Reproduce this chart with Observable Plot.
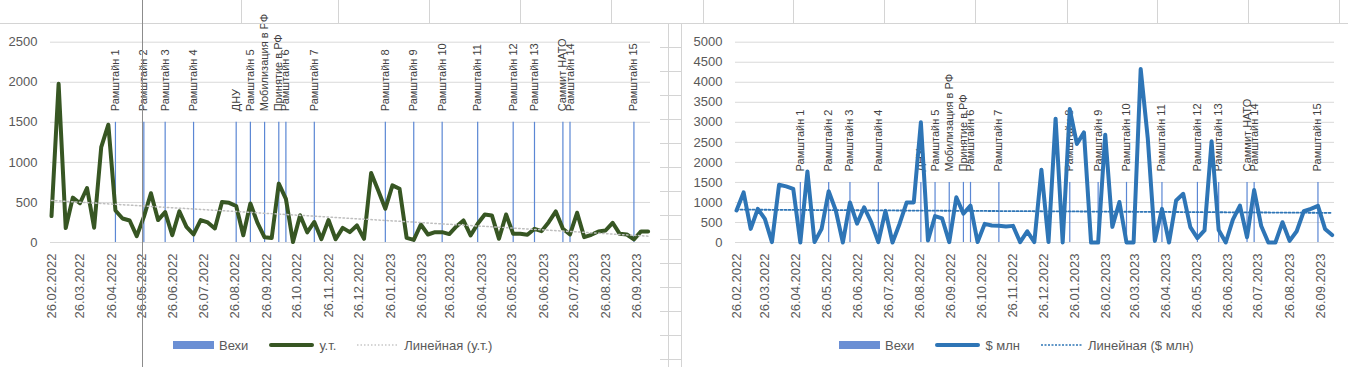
<!DOCTYPE html>
<html>
<head>
<meta charset="utf-8">
<script src="https://cdn.jsdelivr.net/npm/d3@7"></script>
<script src="https://cdn.jsdelivr.net/npm/@observablehq/plot@0.6"></script>
<style>
  html, body { margin: 0; padding: 0; background: #fff; }
  #root { position: relative; width: 1348px; height: 367px; overflow: hidden; font-family: "Liberation Sans", Arial, sans-serif; background: #fff; }
  .panel { position: absolute; top: 24px; height: 343px; background: #fff; }
  .gl { position: absolute; background: #d4d4d4; }
  .legend { position: absolute; top: 337px; height: 16px; display: flex; align-items: center; font-size: 13px; color: #595959; white-space: nowrap; }
  .legend .item { display: flex; align-items: center; margin-right: 21px; }
  .legend .item:last-child { margin-right: 0; }
  .legend .txt { margin-left: 5px; }
</style>
</head>
<body>
<div id="root"></div>
<script>
// ---------- data ----------
const weeks = [
  "2022-02-26","2022-03-05","2022-03-12","2022-03-19","2022-03-26","2022-04-02","2022-04-09","2022-04-16","2022-04-23","2022-04-30",
  "2022-05-07","2022-05-14","2022-05-21","2022-05-28","2022-06-04","2022-06-11","2022-06-18","2022-06-25","2022-07-02","2022-07-09",
  "2022-07-16","2022-07-23","2022-07-30","2022-08-06","2022-08-13","2022-08-20","2022-08-27","2022-09-03","2022-09-10","2022-09-17",
  "2022-09-24","2022-10-01","2022-10-08","2022-10-15","2022-10-22","2022-10-29","2022-11-05","2022-11-12","2022-11-19","2022-11-26",
  "2022-12-03","2022-12-10","2022-12-17","2022-12-24","2022-12-31","2023-01-07","2023-01-14","2023-01-21","2023-01-28","2023-02-04",
  "2023-02-11","2023-02-18","2023-02-25","2023-03-04","2023-03-11","2023-03-18","2023-03-25","2023-04-01","2023-04-08","2023-04-15",
  "2023-04-22","2023-04-29","2023-05-06","2023-05-13","2023-05-20","2023-05-27","2023-06-03","2023-06-10","2023-06-17","2023-06-24",
  "2023-07-01","2023-07-08","2023-07-15","2023-07-22","2023-07-29","2023-08-05","2023-08-12","2023-08-19","2023-08-26","2023-09-02",
  "2023-09-09","2023-09-16","2023-09-23","2023-09-30","2023-10-07"
];
const tonnage = [
  330,1980,180,560,490,680,185,1190,1470,400,
  300,275,80,320,615,280,380,90,390,195,
  100,280,250,175,505,495,455,90,487,245,
  65,55,735,545,5,340,127,256,42,280,
  40,183,129,213,46,867,650,421,713,671,
  58,33,225,100,129,129,105,200,275,88,
  233,350,338,46,350,108,108,96,171,142,
  254,388,171,100,371,67,96,138,150,246,
  108,100,38,138,138
];
const usdMln = [
  800,1250,340,840,590,10,1440,1400,1340,0,
  1775,10,340,1280,800,0,1000,470,880,510,
  10,790,0,470,1000,1000,3000,50,660,600,
  10,1130,720,920,10,465,425,420,400,415,
  10,280,10,1815,10,3090,0,3330,2460,2750,
  0,0,2690,390,1010,0,0,4330,2600,40,
  840,0,1050,1215,385,110,300,2525,310,0,
  570,920,130,1310,410,0,0,507,40,280,
  780,840,915,340,185
];
const milestoneNames = ["Рамштайн 1","Рамштайн 2","Рамштайн 3","Рамштайн 4","ДНУ","Рамштайн 5","Мобилизация в РФ","Принятие в РФ","Рамштайн 6","Рамштайн 7","Рамштайн 8","Рамштайн 9","Рамштайн 10","Рамштайн 11","Рамштайн 12","Рамштайн 13","Саммит НАТО","Рамштайн 14","Рамштайн 15"];
const milestoneWeeks = ["2022-04-30","2022-05-28","2022-06-18","2022-07-16","2022-08-27","2022-09-10","2022-09-24","2022-10-08","2022-10-15","2022-11-12","2023-01-21","2023-02-18","2023-03-18","2023-04-22","2023-05-27","2023-06-17","2023-07-15","2023-07-22","2023-09-23"];
const milestoneValues = [1500,1500,1500,1500,1500,1500,1500,1500,1500,1500,1500,1500,1500,1500,1500,1500,1500,1500,1500];
const xTickLabels = ["26.02.2022","26.03.2022","26.04.2022","26.05.2022","26.06.2022","26.07.2022","26.08.2022","26.09.2022","26.10.2022","26.11.2022","26.12.2022","26.01.2023","26.02.2023","26.03.2023","26.04.2023","26.05.2023","26.06.2023","26.07.2023","26.08.2023","26.09.2023"];
const yTicksLeft = [0,500,1000,1500,2000,2500];
const yTicksRight = [0,500,1000,1500,2000,2500,3000,3500,4000,4500,5000];
const seriesLeft = "у.т.";
const seriesRight = "$ млн";
const legendMilestones = "Вехи";

// ---------- helpers ----------
const parseISO = d3.utcParse("%Y-%m-%d");
const parseTick = d3.utcParse("%d.%m.%Y");
const fmtTick = d3.utcFormat("%d.%m.%Y");
const xDomain = [new Date(Date.UTC(2022,1,25,0)), new Date(Date.UTC(2023,9,9,8))];
const tickDates = xTickLabels.map(parseTick);
const leftData = weeks.map((w,i) => ({date: parseISO(w), v: tonnage[i]}));
const rightData = weeks.map((w,i) => ({date: parseISO(w), v: usdMln[i]}));
const miles = milestoneNames.map((n,i) => ({name: n, date: parseISO(milestoneWeeks[i]), v: milestoneValues[i]}));

const root = document.getElementById("root");

function makeChart({left, width, mLeft, mRight, yDomain, yTicks, data, color, trendColor, trendWidth, trendDash}) {
  const panel = document.createElement("div");
  panel.className = "panel";
  panel.style.left = left + "px";
  panel.style.width = width + "px";
  const chart = Plot.plot({
    width: width,
    height: 300,
    marginLeft: mLeft,
    marginRight: mRight,
    marginTop: 17.7,
    marginBottom: 82,
    style: {background: "transparent", fontFamily: "'Liberation Sans', Arial, sans-serif", overflow: "visible"},
    x: {type: "utc", domain: xDomain},
    y: {domain: yDomain},
    marks: [
      Plot.gridY(yTicks, {stroke: "#d9d9d9", strokeOpacity: 1, strokeWidth: 1}),
      Plot.axisY(yTicks, {tickSize: 0, tickPadding: 13, fontSize: 13, color: "#595959", label: null, tickFormat: d => String(d)}),
      Plot.axisX(tickDates, {tickFormat: fmtTick, tickRotate: -90, tickSize: 0, tickPadding: 11, fontSize: 13, color: "#595959", label: null, textAnchor: "end", lineAnchor: "middle"}),
      Plot.ruleX(miles, {x: "date", y1: 0, y2: "v", stroke: "#5b87d4", strokeWidth: 1.2}),
      Plot.text(miles, {x: "date", y: "v", text: "name", rotate: -90, textAnchor: "start", lineAnchor: "middle", dy: -11, fontSize: 11, fill: "#404040"}),
      Plot.line(data, {x: "date", y: "v", stroke: color, strokeWidth: 4, strokeLinejoin: "round", strokeLinecap: "round"}),
      Plot.linearRegressionY(data, {x: "date", y: "v", stroke: trendColor, strokeWidth: trendWidth, strokeDasharray: trendDash, ci: 0})
    ]
  });
  panel.appendChild(chart);
  root.appendChild(panel);
}

makeChart({left: 0, width: 660, mLeft: 50, mRight: 10, yDomain: [0,2500], yTicks: yTicksLeft, data: leftData, color: "#375623", trendColor: "#bfbfbf", trendWidth: 1.5, trendDash: "1.5,2.5"});
makeChart({left: 681, width: 667, mLeft: 54, mRight: 14, yDomain: [0,5000], yTicks: yTicksRight, data: rightData, color: "#2e75b6", trendColor: "#2e75b6", trendWidth: 1.8, trendDash: "2,2"});

// ---------- spreadsheet background lines ----------
function line(x, y, w, h, color) {
  const d = document.createElement("div");
  d.className = "gl";
  d.style.left = x + "px"; d.style.top = y + "px";
  d.style.width = w + "px"; d.style.height = h + "px";
  if (color) d.style.background = color;
  root.appendChild(d);
}
const sheetColumns = [241,338,429,520,611,703,793,884,975,1067,1157,1248,1339];
line(0, 23, 1348, 1);
sheetColumns.forEach(x => line(x, 0, 1, 23));
line(668, 23, 1, 344);
line(681, 23, 1, 344);
for (let y = 47; y < 367; y += 24) line(660, y, 21, 1);
line(142, 0, 1, 367, "#8c8c8c");

// ---------- legends ----------
function legend(left, name, lineColor, trendColor, trendDash, trendWidth) {
  const lg = document.createElement("div");
  lg.className = "legend";
  lg.style.left = left + "px";
  lg.innerHTML = `
    <div class="item"><div style="width:41px;height:8px;background:#6b8fd4"></div><span class="txt">${legendMilestones}</span></div>
    <div class="item"><svg width="45" height="8"><line x1="2" y1="4" x2="43" y2="4" stroke="${lineColor}" stroke-width="4" stroke-linecap="round"/></svg><span class="txt">${name}</span></div>
    <div class="item"><svg width="42" height="8"><line x1="0" y1="4" x2="42" y2="4" stroke="${trendColor}" stroke-width="${trendWidth}" stroke-dasharray="${trendDash}"/></svg><span class="txt">Линейная (${name})</span></div>`;
  root.appendChild(lg);
}
legend(173, seriesLeft, "#375623", "#c8c8c8", "1.5,2", 1.5);
legend(839, seriesRight, "#2e75b6", "#2e75b6", "2,1.5", 1.5);
</script>
</body>
</html>
